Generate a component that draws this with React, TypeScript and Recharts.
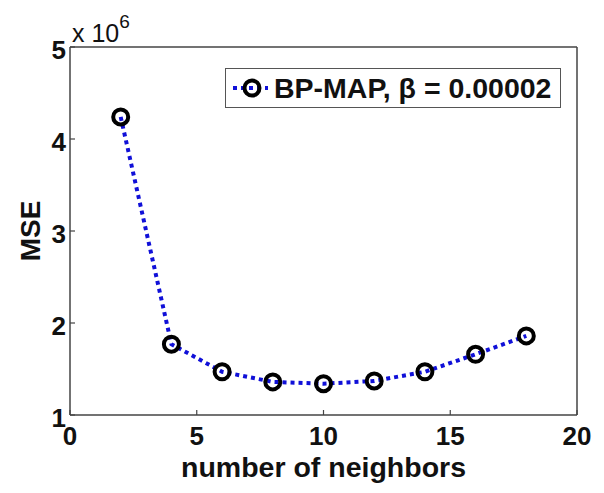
import React from 'react';
import { LineChart, Line, XAxis, YAxis, Legend } from 'recharts';

const neighbors = [2, 4, 6, 8, 10, 12, 14, 16, 18];
const mse = [4.24e6, 1.77e6, 1.47e6, 1.36e6, 1.34e6, 1.37e6, 1.47e6, 1.66e6, 1.86e6];
const xTicks = [0, 5, 10, 15, 20];
const yTicks = [1e6, 2e6, 3e6, 4e6, 5e6];
const seriesName = 'BP-MAP, \u03b2 = 0.00002';

const data = neighbors.map((n, i) => ({ n, mse: mse[i] }));

const FONT = '"Liberation Sans", Arial, sans-serif';
const AXIS = '#444';
const BLUE = '#1010d8';

const XTick = (props: any) => {
  const { x, y, payload } = props;
  return (
    <g>
      <line x1={x} y1={y} x2={x} y2={y - 5} stroke={AXIS} strokeWidth={1.2} />
      <text x={x} y={y + 30} textAnchor="middle" fontFamily={FONT} fontWeight="bold" fontSize={26} fill="#111">
        {payload.value}
      </text>
    </g>
  );
};

const YTick = (props: any) => {
  const { x, y, payload } = props;
  return (
    <g>
      <line x1={x} y1={y} x2={x + 5} y2={y} stroke={AXIS} strokeWidth={1.2} />
      <text x={x - 4} y={y + 12} textAnchor="end" fontFamily={FONT} fontWeight="bold" fontSize={26} fill="#111">
        {payload.value / 1e6}
      </text>
    </g>
  );
};

const Marker = (props: any) => {
  const { cx, cy, index } = props;
  return <circle key={`m-${index}`} cx={cx} cy={cy} r={7.5} fill="none" stroke="#000" strokeWidth={4} />;
};

const LegendBox = (props: any) => {
  const item = props.payload && props.payload[0];
  return (
    <div
      style={{
        boxSizing: 'border-box',
        width: 336,
        height: 40,
        border: '1.5px solid #555',
        background: '#fff',
        display: 'flex',
        alignItems: 'center',
        fontFamily: FONT,
        fontWeight: 'bold',
        fontSize: 28.5,
        color: '#111',
      }}
    >
      <svg width={48} height={24} style={{ flex: 'none' }}>
        <line x1={7} y1={12} x2={42} y2={12} stroke={BLUE} strokeWidth={4} strokeDasharray="4 4" />
        <circle cx={26} cy={12} r={7.5} fill="none" stroke="#000" strokeWidth={4} />
      </svg>
      <span style={{ whiteSpace: 'nowrap' }}>{item ? item.value : seriesName}</span>
    </div>
  );
};

const Multiplier = (props: any) => {
  const { viewBox } = props;
  return (
    <text x={viewBox.x + 2} y={viewBox.y - 5} fontFamily={FONT} fontSize={25} fill="#111">
      x 10
      <tspan dy={-14} fontSize={19}>6</tspan>
    </text>
  );
};

const YLabel = (props: any) => {
  const { viewBox } = props;
  const cx = viewBox.x + 20;
  const cy = viewBox.y + viewBox.height / 2;
  return (
    <text x={cx} y={cy} transform={`rotate(-90, ${cx}, ${cy})`} textAnchor="middle" dominantBaseline="central"
      fontFamily={FONT} fontWeight="bold" fontSize={28} fill="#111">
      MSE
    </text>
  );
};

const XLabel = (props: any) => {
  const { viewBox } = props;
  return (
    <text x={viewBox.x + viewBox.width / 2} y={viewBox.y + 62} textAnchor="middle"
      fontFamily={FONT} fontWeight="bold" fontSize={28.5} fill="#111">
      number of neighbors
    </text>
  );
};

export default function App() {
  return (
    <div style={{ position: 'absolute', left: 0, top: 0, width: 604, height: 493, background: '#fff', fontFamily: FONT }}>
      <LineChart width={604} height={493} data={data} margin={{ top: 47, right: 27, bottom: 0, left: 10 }}>
        <XAxis
          dataKey="n"
          type="number"
          domain={[0, 20]}
          ticks={xTicks}
          allowDataOverflow
          height={78}
          tickSize={0}
          tickMargin={0}
          tickLine={false}
          tick={<XTick />}
          interval={0}
          axisLine={{ stroke: AXIS, strokeWidth: 1.5 }}
          label={<XLabel />}
        />
        <XAxis
          xAxisId="top"
          orientation="top"
          dataKey="n"
          type="number"
          domain={[0, 20]}
          ticks={xTicks}
          allowDataOverflow
          height={1}
          mirror
          tickSize={5}
          tick={false}
          tickLine={{ stroke: AXIS, strokeWidth: 1.2 }}
          axisLine={{ stroke: AXIS, strokeWidth: 1.5 }}
          label={<Multiplier />}
        />
        <YAxis
          type="number"
          domain={[1e6, 5e6]}
          ticks={yTicks}
          allowDataOverflow
          width={60}
          tickSize={0}
          tickMargin={0}
          tickLine={false}
          tick={<YTick />}
          interval={0}
          axisLine={{ stroke: AXIS, strokeWidth: 1.5 }}
          label={<YLabel />}
        />
        <YAxis
          yAxisId="right"
          orientation="right"
          type="number"
          domain={[1e6, 5e6]}
          ticks={yTicks}
          allowDataOverflow
          width={1}
          mirror
          tickSize={5}
          tick={false}
          tickLine={{ stroke: AXIS, strokeWidth: 1.2 }}
          axisLine={{ stroke: AXIS, strokeWidth: 1.5 }}
        />
        <Legend
          layout="vertical"
          verticalAlign="middle"
          align="center"
          content={<LegendBox />}
          wrapperStyle={{ left: 225, top: 68, width: 336, height: 40 }}
        />
        <Line
          type="linear"
          dataKey="mse"
          name={seriesName}
          stroke={BLUE}
          strokeWidth={4}
          strokeDasharray="4 4"
          dot={<Marker />}
          activeDot={false}
          isAnimationActive={false}
        />
      </LineChart>
    </div>
  );
}
